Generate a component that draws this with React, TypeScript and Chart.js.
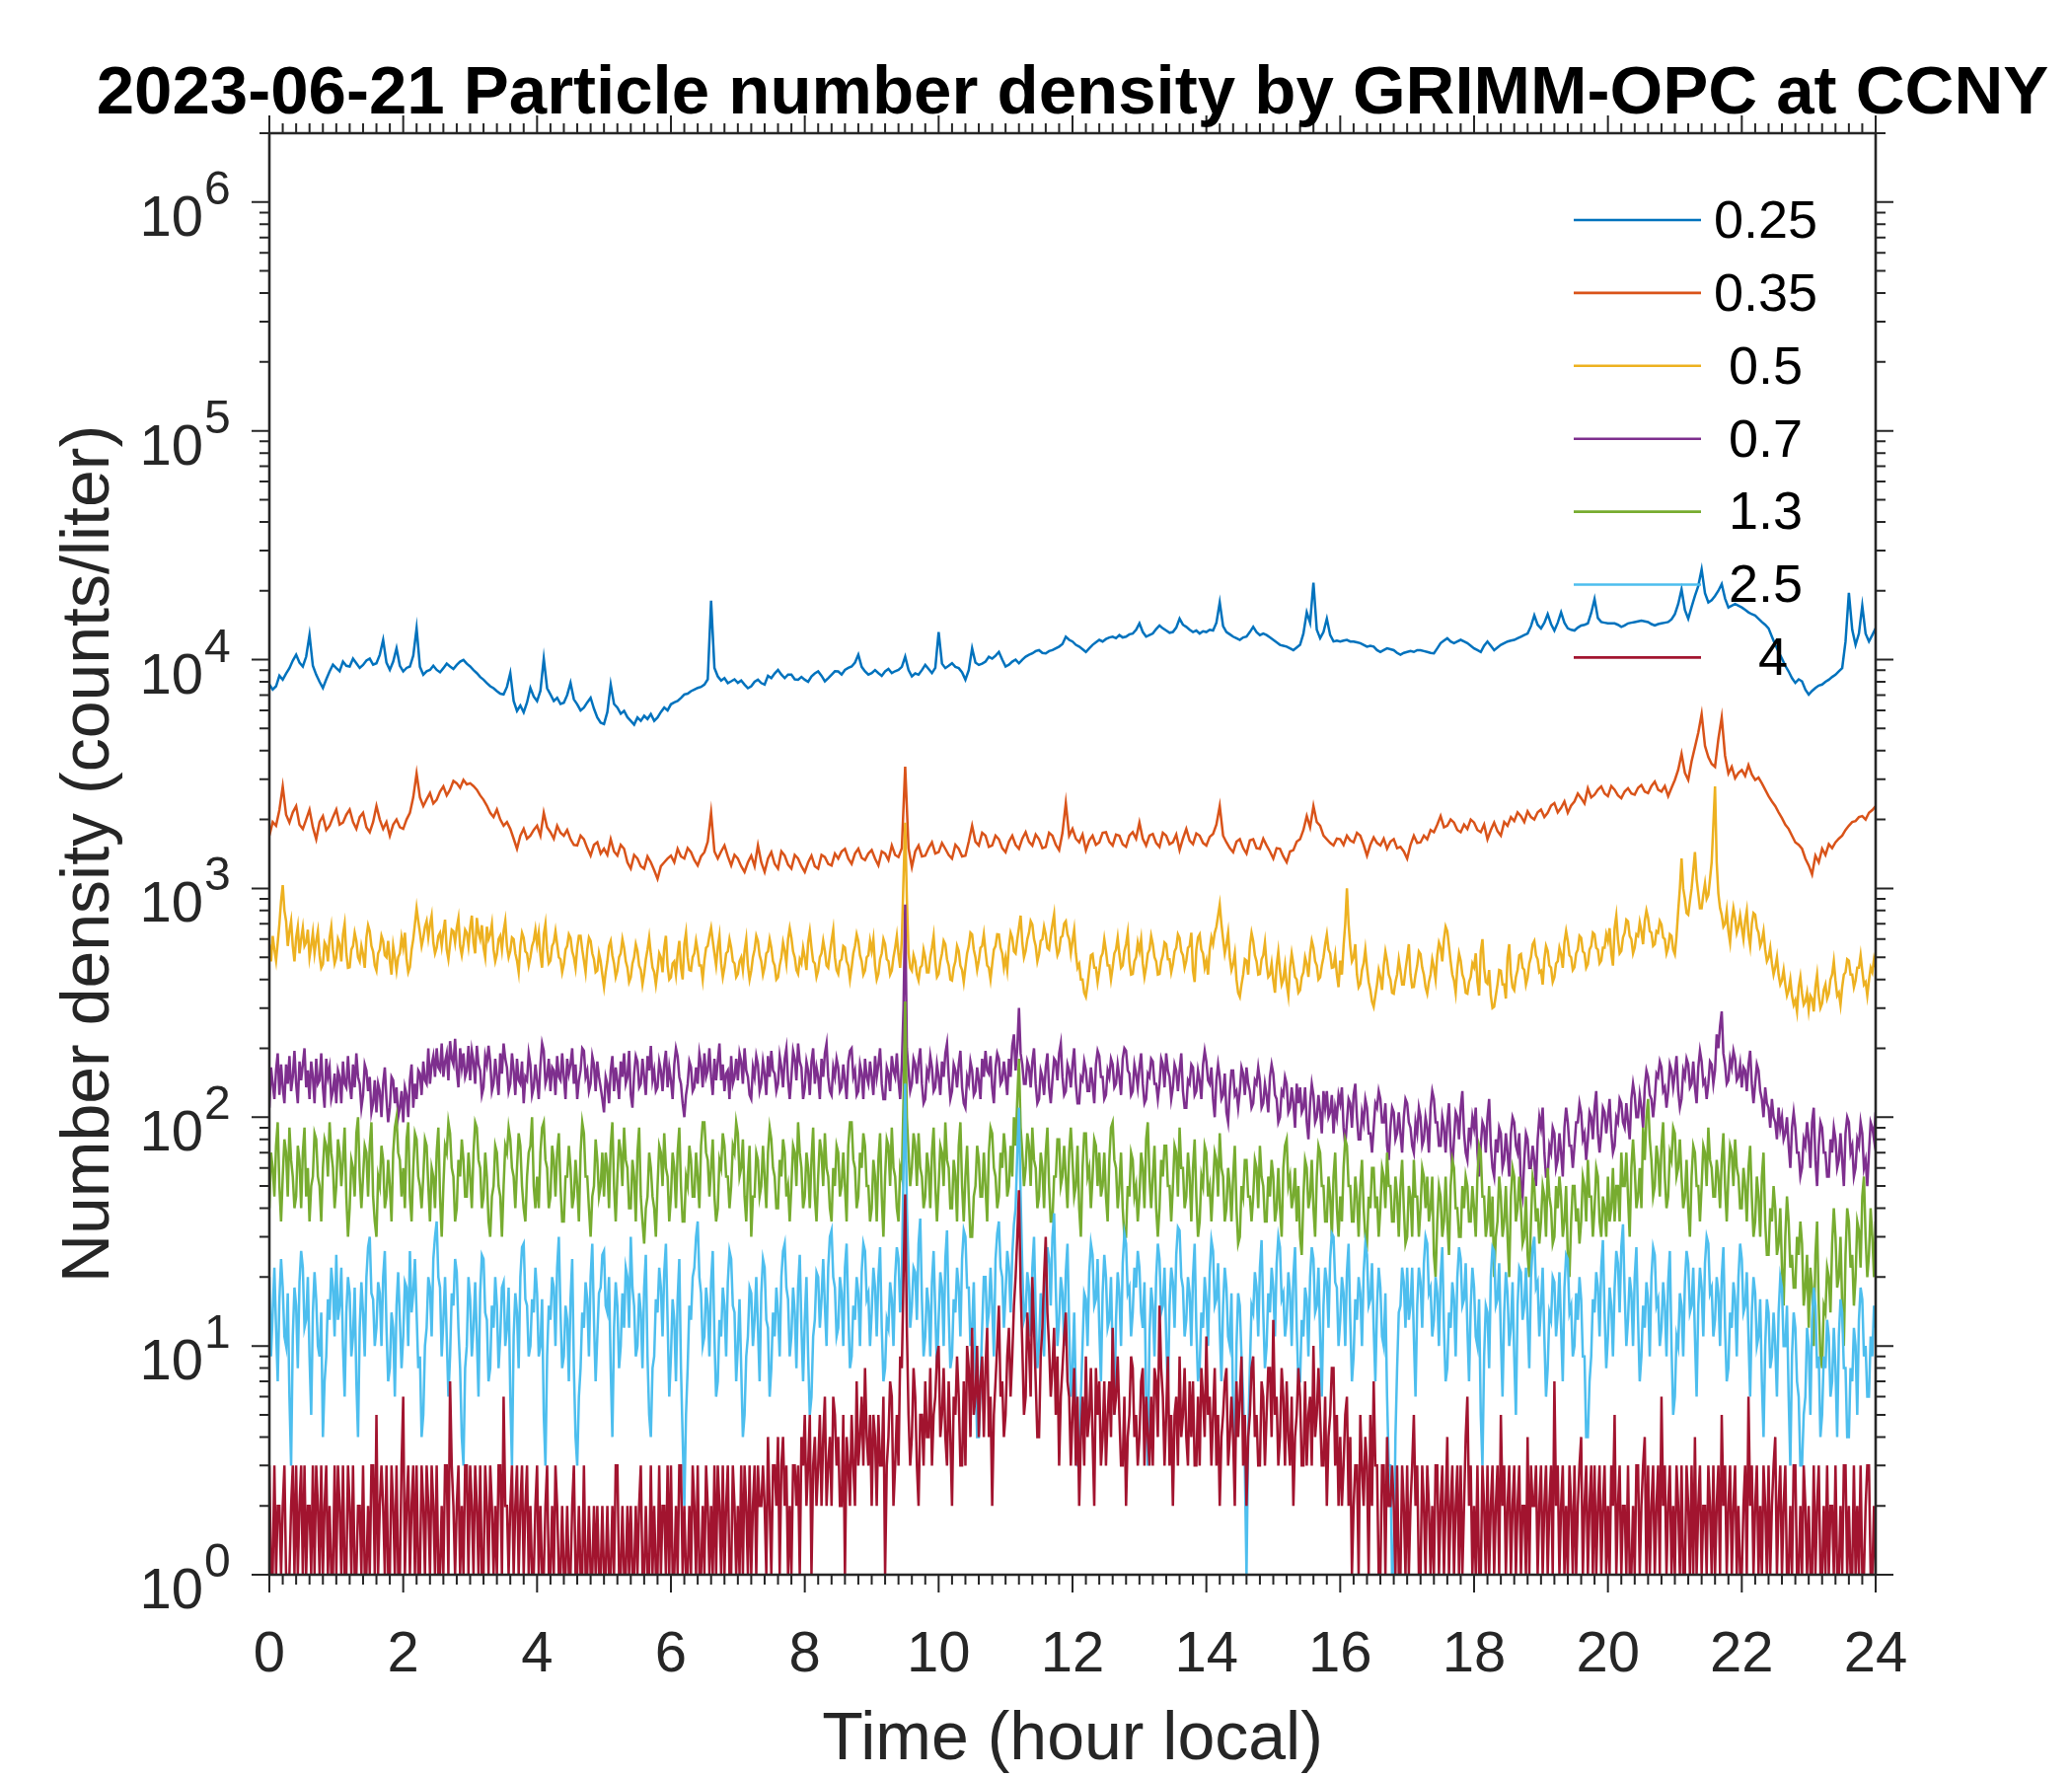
import React, { useEffect, useRef } from "react";
import { Chart, registerables } from "chart.js";

Chart.register(...registerables);

// ---------------- data ----------------
const TITLE = "2023-06-21 Particle number density by GRIMM-OPC at CCNY";
const X_LABEL = "Time (hour local)";
const Y_LABEL = "Number density (counts/liter)";

// every series covers 0 h .. 24 h with evenly spaced samples (one row = one hour)
const T_START_H = 0;
const T_END_H = 24;

const SIZE_LABELS = ["0.25", "0.35", "0.5", "0.7", "1.3", "2.5", "4"];
const LEGEND_TEXT = ["0.25", "0.35", " 0.5", " 0.7", " 1.3", " 2.5", "   4"];
const COLORS = ["#0072BD", "#D95319", "#EDB120", "#7E2F8E", "#77AC30", "#4DBEEE", "#A2142F"];

const X_TICKS = [0, 2, 4, 6, 8, 10, 12, 14, 16, 18, 20, 22, 24];
const X_MINOR_STEP = 0.2;
const Y_DECADES = [0, 1, 2, 3, 4, 5, 6];
const Y_MIN = 1;
const Y_MAX = 2e6;

const N_025 = [
  7780, 7400, 7650, 8500, 8170, 8700, 9180, 9900, 10500, 9700, 9330, 10300, 12800, 9400, 8590, 8000, 7520, 8200, 8880, 9500,
  9180, 8900, 9800, 9400, 9330, 10100, 9640, 9200, 9480, 9900, 10100, 9500, 9640, 10500, 12200, 9700, 9020, 9800, 11200, 9400,
  8880, 9200, 9330, 10400, 13700, 9300, 8590, 8900, 9020, 9400, 9020, 8800, 9180, 9600, 9330, 9100, 9480, 9800, 9970, 9600,
  9330, 9000, 8730, 8400, 8170, 7900, 7650, 7500, 7280, 7100, 7040, 7600, 8730, 6600, 5970, 6300, 5880, 6500, 7520, 6900,
  6590, 7300, 10100, 7500, 7040, 6600, 6810, 6400, 6480, 7000, 7910, 6700, 6380, 6000, 6170, 6500, 6810, 6100, 5590, 5300,
  5230, 5900, 7780, 6400, 6170, 5800, 5970, 5600, 5400, 5200, 5590, 5400, 5680, 5500, 5780, 5400, 5590, 5900, 6170, 6000,
  6380, 6500, 6590, 6800, 7040, 7100, 7280, 7400, 7520, 7600, 7780, 8200, 18100, 9200, 8450, 8100, 8300, 7900, 8040, 8200,
  7910, 8100, 7780, 7500, 7650, 8000, 8170, 7900, 7780, 8500, 8300, 8700, 9020, 8600, 8300, 8600, 8590, 8200, 8170, 8400,
  8170, 8000, 8450, 8700, 8880, 8500, 8040, 8300, 8590, 8900, 8880, 8600, 9020, 9200, 9330, 9700, 10500, 9300, 8880, 8600,
  8730, 9000, 8730, 8500, 8880, 9100, 8730, 8900, 9020, 9300, 10300, 9000, 8450, 8700, 8590, 9000, 9480, 9100, 8730, 9200,
  13200, 9600, 9180, 9400, 9640, 9300, 9180, 8800, 8170, 9000, 11200, 9700, 9480, 9600, 9800, 10300, 10100, 10400, 10800, 10000,
  9330, 9500, 9800, 10000, 9640, 10000, 10300, 10500, 10650, 10900, 11000, 10700, 10650, 10900, 11000, 11200, 11400, 11700, 12600, 12200,
  12000, 11600, 11400, 11100, 10800, 11200, 11600, 11900, 12200, 12000, 12300, 12500, 12600, 12400, 12800, 12500, 12600, 12900, 13000, 13500,
  14400, 13200, 12600, 12800, 13000, 13600, 14100, 13700, 13400, 13100, 13200, 13800, 15100, 14200, 13900, 13500, 13200, 13400, 13000, 13300,
  13200, 13500, 13400, 14500, 17800, 14000, 13200, 12900, 12600, 12400, 12200, 12500, 12600, 13200, 13900, 13200, 12800, 13000, 12800, 12500,
  12200, 11900, 11600, 11500, 11400, 11200, 11000, 11300, 11600, 13000, 16100, 14500, 21700, 13500, 12400, 13200, 15100, 12800, 12000, 12100,
  12000, 12100, 12200, 12000, 12000, 11900, 11800, 11600, 11400, 11500, 11400, 11000, 10800, 11000, 11200, 11100, 11000, 10700, 10500, 10700,
  10800, 10900, 10800, 11000, 11000, 10900, 10800, 10700, 10650, 11200, 11800, 12100, 12400, 12000, 11800, 12000, 12200, 12000, 11800, 11500,
  11200, 11000, 10800, 11500, 12000, 11500, 11000, 11300, 11600, 11800, 12000, 12100, 12200, 12400, 12600, 12800, 13000, 14000, 15600, 14200,
  13700, 14500, 15800, 14300, 13400, 14500, 16100, 14500, 13700, 13500, 13400, 13800, 14100, 14200, 14400, 16000, 18400, 15200, 14600, 14500,
  14400, 14400, 14400, 14200, 13900, 14100, 14400, 14500, 14600, 14700, 14800, 14700, 14600, 14300, 14100, 14300, 14400, 14500, 14600, 15000,
  15800, 17500, 20300, 16500, 15100, 17000, 19000, 21000, 24800, 19500, 17800, 18200, 19000, 20000, 21400, 18500, 16900, 17200, 17500, 17200,
  16900, 16500, 16100, 15800, 15600, 15100, 14600, 14200, 13700, 12600, 11600, 10800, 10100, 9400, 8880, 8300, 7910, 8200, 8040, 7400,
  7040, 7300, 7520, 7700, 7780, 8000, 8170, 8400, 8590, 8900, 9180, 12000, 19600, 13500, 11600, 13000, 17200, 13000, 12000, 12800,
  13700,
];

const N_035 = [
  1700, 1950, 1880, 2200, 2790, 2100, 1940, 2150, 2290, 1900, 1820, 2000, 2210, 1850, 1640, 1950, 2070, 1800, 1880, 2050,
  2210, 1900, 1940, 2100, 2210, 1950, 1820, 2050, 2140, 1850, 1760, 1950, 2290, 2000, 1820, 1950, 1700, 1900, 2000, 1850,
  1820, 2000, 2140, 2500, 3180, 2500, 2290, 2450, 2610, 2350, 2440, 2650, 2790, 2550, 2700, 2950, 2880, 2750, 2980, 2850,
  2880, 2800, 2700, 2550, 2440, 2300, 2140, 2050, 2210, 2000, 1880, 1950, 1820, 1650, 1490, 1700, 1820, 1650, 1700, 1800,
  1880, 1700, 2140, 1850, 1760, 1650, 1880, 1750, 1700, 1800, 1640, 1550, 1540, 1700, 1640, 1500, 1390, 1550, 1590, 1420,
  1490, 1400, 1640, 1450, 1390, 1550, 1490, 1300, 1220, 1400, 1350, 1250, 1220, 1380, 1300, 1200, 1100, 1250, 1300, 1350,
  1390, 1300, 1490, 1380, 1350, 1500, 1440, 1330, 1260, 1380, 1440, 1600, 2140, 1450, 1350, 1450, 1540, 1380, 1260, 1400,
  1350, 1250, 1180, 1300, 1390, 1250, 1540, 1300, 1180, 1350, 1440, 1280, 1220, 1450, 1390, 1270, 1220, 1400, 1350, 1250,
  1180, 1300, 1390, 1250, 1220, 1400, 1370, 1280, 1260, 1420, 1350, 1450, 1490, 1350, 1280, 1420, 1490, 1360, 1330, 1420,
  1470, 1350, 1260, 1450, 1420, 1330, 1540, 1400, 1370, 1500, 3400, 1500, 1240, 1450, 1540, 1380, 1390, 1500, 1590, 1420,
  1440, 1580, 1490, 1400, 1350, 1550, 1490, 1380, 1390, 1600, 1880, 1600, 1540, 1750, 1700, 1520, 1540, 1700, 1640, 1500,
  1440, 1600, 1700, 1550, 1490, 1650, 1760, 1600, 1540, 1720, 1640, 1500, 1520, 1750, 1700, 1550, 1470, 1750, 2360, 1700,
  1820, 1650, 1590, 1720, 1470, 1620, 1700, 1550, 1590, 1750, 1760, 1600, 1540, 1720, 1700, 1560, 1520, 1700, 1760, 1650,
  1940, 1650, 1540, 1700, 1730, 1580, 1520, 1750, 1700, 1560, 1590, 1720, 1470, 1650, 1820, 1620, 1560, 1740, 1700, 1580,
  1540, 1680, 1730, 1900, 2290, 1700, 1590, 1500, 1440, 1600, 1640, 1500, 1420, 1620, 1640, 1500, 1490, 1650, 1540, 1450,
  1350, 1500, 1490, 1380, 1300, 1450, 1470, 1600, 1640, 1800, 2070, 1850, 2290, 1950, 1880, 1700, 1640, 1580, 1540, 1650,
  1640, 1550, 1700, 1620, 1590, 1750, 1700, 1550, 1390, 1550, 1670, 1580, 1540, 1650, 1490, 1600, 1640, 1500, 1520, 1450,
  1350, 1550, 1700, 1580, 1590, 1700, 1640, 1800, 1760, 1900, 2070, 1850, 1880, 2000, 1940, 1800, 1760, 1900, 1820, 2000,
  1940, 1800, 1760, 1900, 1640, 1800, 1940, 1780, 1700, 1950, 1880, 2050, 1970, 2150, 2070, 1950, 2170, 2050, 2000, 2150,
  2210, 2050, 2140, 2300, 2360, 2150, 2250, 2400, 2140, 2300, 2400, 2600, 2480, 2350, 2740, 2500, 2570, 2700, 2790, 2600,
  2530, 2800, 2700, 2550, 2480, 2650, 2740, 2600, 2570, 2750, 2830, 2650, 2610, 2800, 2930, 2700, 2650, 2800, 2530, 2750,
  2980, 3300, 3870, 3200, 2980, 3600, 4150, 4800, 5780, 4200, 3750, 3500, 3400, 4500, 5590, 3800, 3180, 3400, 3030, 3200,
  3290, 3100, 3460, 3150, 2980, 3050, 2880, 2700, 2530, 2400, 2290, 2150, 2030, 1900, 1820, 1700, 1590, 1550, 1490, 1350,
  1260, 1150, 1390, 1300, 1490, 1400, 1560, 1500, 1590, 1650, 1700, 1800, 1880, 1950, 1970, 2050, 2070, 2000, 2140, 2200,
  2290,
];

const N_05 = [
  570, 480, 620, 540, 483, 580, 700, 880, 1033, 800, 720, 560, 650, 720, 560, 480, 608, 680, 520, 600, 673, 560, 580, 660, 499, 560, 640, 520, 589, 650, 510, 450, 467, 580, 560, 480, 608, 680, 540, 470,
  499, 600, 570, 480, 629, 700, 520, 450, 452, 540, 560, 640, 589, 500, 480, 560, 516, 450, 610, 690, 650, 560, 530, 460, 437, 520, 540, 620, 589, 510, 500, 590, 483, 420, 560, 500, 437, 500, 520, 610,
  551, 640, 490, 430, 452, 540, 600, 700, 820, 720, 640, 560, 608, 680, 720, 610, 695, 760, 580, 520, 551, 620, 640, 560, 650, 730, 540, 490, 570, 660, 650, 580, 673, 740, 560, 510, 570, 660, 640, 560,
  673, 760, 580, 520, 743, 640, 600, 690, 551, 500, 680, 600, 629, 700, 540, 480, 516, 600, 620, 540, 650, 720, 560, 500, 533, 610, 600, 520, 483, 430, 560, 640, 608, 530, 520, 460, 499, 560, 590, 660,
  570, 640, 510, 450, 629, 700, 540, 470, 483, 560, 580, 650, 570, 500, 490, 430, 467, 540, 560, 630, 608, 530, 500, 450, 551, 620, 620, 540, 483, 430, 540, 610, 589, 520, 490, 430, 437, 520, 480, 420,
  371, 430, 480, 560, 589, 510, 470, 410, 437, 500, 520, 600, 551, 480, 450, 390, 409, 470, 500, 570, 533, 460, 440, 380, 423, 490, 540, 610, 516, 450, 430, 380, 437, 520, 500, 430, 551, 620, 460, 400,
  409, 470, 480, 420, 516, 590, 450, 400, 570, 640, 500, 440, 437, 500, 520, 590, 533, 460, 460, 400, 483, 550, 560, 620, 673, 590, 520, 460, 551, 620, 470, 410, 452, 520, 530, 600, 551, 480, 470, 410,
  423, 480, 500, 440, 533, 600, 460, 400, 437, 500, 540, 620, 589, 510, 480, 420, 452, 520, 530, 600, 551, 480, 460, 400, 409, 460, 500, 580, 533, 470, 600, 670, 608, 530, 500, 440, 423, 490, 470, 550,
  499, 440, 580, 650, 551, 480, 470, 410, 437, 500, 520, 590, 533, 460, 450, 520, 589, 660, 500, 440, 423, 480, 490, 560, 551, 480, 460, 400, 452, 520, 560, 630, 589, 510, 480, 420, 437, 500, 510, 590,
  533, 600, 460, 400, 423, 490, 520, 600, 570, 490, 480, 420, 437, 500, 550, 620, 516, 450, 600, 1100, 1940, 900, 520, 450, 437, 510, 480, 420, 396, 450, 460, 540, 499, 430, 430, 500, 551, 620, 480, 410,
  423, 480, 520, 590, 570, 490, 460, 400, 396, 450, 480, 560, 533, 460, 440, 390, 452, 520, 560, 640, 629, 540, 500, 440, 483, 550, 560, 630, 533, 460, 450, 400, 467, 540, 560, 630, 629, 550, 520, 450,
  499, 440, 560, 640, 608, 530, 520, 600, 673, 760, 580, 500, 533, 600, 640, 720, 695, 600, 560, 480, 516, 590, 600, 680, 629, 550, 540, 620, 695, 770, 580, 510, 533, 610, 620, 700, 718, 630, 600, 520,
  589, 660, 520, 450, 467, 400, 400, 350, 336, 380, 440, 510, 516, 450, 450, 390, 437, 500, 520, 600, 533, 460, 460, 400, 452, 520, 540, 610, 516, 450, 460, 530, 570, 640, 480, 420, 423, 480, 500, 580,
  533, 600, 470, 410, 452, 520, 540, 620, 570, 500, 480, 420, 423, 480, 510, 580, 570, 490, 490, 430, 467, 530, 550, 630, 608, 530, 510, 450, 483, 550, 560, 640, 437, 390, 540, 610, 629, 540, 520, 450,
  483, 420, 540, 610, 570, 640, 680, 760, 849, 700, 600, 520, 570, 640, 500, 440, 467, 520, 400, 350, 336, 380, 420, 490, 483, 420, 560, 640, 589, 510, 480, 420, 423, 490, 510, 580, 467, 410, 420, 470,
  396, 350, 460, 530, 437, 380, 400, 460, 383, 340, 450, 520, 467, 410, 400, 350, 359, 410, 430, 500, 467, 410, 520, 590, 551, 480, 460, 400, 409, 460, 500, 570, 629, 540, 520, 450, 452, 510, 420, 370,
  483, 420, 560, 700, 1000, 700, 560, 480, 499, 570, 420, 370, 383, 440, 470, 540, 452, 390, 360, 320, 304, 340, 380, 440, 409, 360, 460, 530, 483, 420, 400, 350, 347, 390, 420, 490, 437, 380, 380, 440,
  499, 570, 420, 370, 371, 420, 460, 530, 516, 450, 420, 370, 347, 390, 420, 490, 452, 400, 510, 580, 551, 480, 600, 680, 650, 560, 480, 420, 396, 350, 450, 520, 483, 420, 400, 350, 347, 390, 410, 470,
  452, 520, 390, 340, 533, 600, 450, 390, 383, 440, 340, 300, 304, 340, 380, 440, 437, 380, 380, 330, 499, 570, 420, 370, 359, 410, 440, 510, 516, 450, 440, 380, 409, 470, 500, 570, 589, 510, 490, 430,
  437, 380, 490, 560, 533, 460, 450, 390, 409, 470, 480, 550, 516, 450, 580, 650, 589, 510, 500, 440, 452, 520, 540, 620, 608, 530, 520, 450, 467, 540, 560, 640, 629, 550, 540, 470, 483, 550, 550, 630,
  589, 670, 520, 460, 673, 760, 600, 520, 533, 610, 640, 730, 718, 620, 600, 520, 551, 630, 620, 710, 650, 570, 720, 800, 743, 650, 640, 560, 570, 650, 640, 720, 695, 610, 600, 520, 551, 630, 620, 540,
  516, 620, 800, 1000, 1350, 1000, 900, 780, 767, 880, 1000, 1200, 1440, 1100, 950, 820, 820, 940, 1050, 900, 936, 1100, 1300, 1900, 2790, 1300, 950, 820, 767, 680, 700, 800, 650, 580, 720, 820, 743, 640, 680, 760,
  673, 600, 720, 800, 629, 560, 700, 780, 767, 670, 640, 560, 589, 650, 540, 480, 499, 550, 470, 420, 452, 500, 420, 380, 396, 440, 380, 340, 359, 400, 340, 310, 325, 290, 370, 410, 347, 310, 320, 350,
  294, 340, 330, 290, 371, 420, 340, 300, 314, 360, 380, 330, 347, 400, 420, 480, 396, 340, 350, 310, 371, 420, 430, 490, 483, 420, 420, 370, 396, 450, 450, 510, 437, 380, 390, 340, 396, 450, 430, 490,
  452,
];

const N_07 = [
  110, 165, 140, 120, 160, 190, 125, 170, 135, 115, 170, 140, 185, 130, 150, 195, 140, 115, 175, 145, 170, 200, 135, 160, 120, 175, 150, 115, 180, 140, 145, 190, 135, 110, 180, 150, 165, 120, 130, 155,
  115, 160, 150, 115, 175, 140, 135, 185, 140, 120, 170, 135, 190, 150, 140, 110, 125, 170, 160, 130, 150, 105, 115, 145, 105, 140, 130, 100, 140, 165, 120, 95, 110, 150, 145, 115, 135, 100, 110, 130,
  95, 135, 125, 100, 145, 170, 110, 140, 120, 160, 155, 125, 175, 145, 140, 200, 140, 170, 185, 150, 200, 165, 160, 210, 150, 175, 190, 145, 215, 180, 170, 220, 160, 135, 200, 165, 190, 150, 160, 205,
  145, 195, 175, 140, 205, 170, 160, 125, 135, 185, 170, 205, 175, 130, 140, 180, 150, 125, 190, 155, 210, 180, 165, 130, 140, 190, 160, 125, 180, 145, 140, 175, 115, 150, 145, 190, 170, 125, 135, 170,
  145, 120, 170, 210, 195, 140, 150, 180, 130, 165, 160, 125, 185, 150, 145, 190, 150, 120, 180, 155, 170, 200, 140, 170, 120, 145, 160, 200, 195, 150, 160, 130, 140, 185, 170, 130, 175, 150, 135, 120,
  105, 150, 140, 115, 160, 185, 130, 165, 145, 120, 175, 150, 190, 140, 150, 195, 125, 110, 155, 185, 175, 135, 140, 180, 150, 125, 185, 160, 205, 145, 160, 130, 135, 175, 160, 130, 170, 195, 135, 165,
  145, 120, 170, 200, 185, 150, 140, 115, 100, 125, 140, 175, 165, 130, 135, 165, 140, 190, 170, 135, 190, 150, 160, 200, 150, 125, 180, 145, 175, 210, 145, 170, 130, 155, 160, 120, 185, 140, 150, 180,
  145, 190, 175, 140, 200, 160, 150, 125, 120, 165, 150, 185, 170, 130, 140, 175, 155, 125, 185, 150, 195, 160, 155, 130, 140, 185, 165, 135, 180, 200, 145, 120, 150, 195, 180, 145, 210, 175, 165, 120,
  135, 175, 160, 125, 175, 200, 140, 165, 150, 120, 180, 150, 190, 210, 150, 130, 125, 165, 150, 180, 165, 130, 135, 170, 145, 120, 175, 195, 200, 150, 160, 125, 130, 170, 155, 120, 180, 150, 140, 175,
  150, 125, 185, 150, 170, 200, 140, 120, 120, 165, 155, 130, 185, 160, 150, 190, 145, 120, 170, 300, 850, 200, 160, 130, 140, 180, 170, 140, 175, 200, 140, 115, 120, 160, 150, 185, 165, 130, 135, 170,
  150, 125, 175, 150, 190, 210, 150, 120, 130, 170, 160, 135, 170, 195, 135, 115, 110, 150, 140, 175, 160, 125, 130, 165, 145, 120, 180, 150, 195, 160, 155, 185, 135, 115, 165, 190, 180, 140, 145, 175,
  150, 125, 180, 150, 205, 230, 160, 200, 300, 190, 170, 140, 140, 175, 165, 135, 175, 200, 140, 115, 120, 160, 150, 125, 165, 190, 135, 115, 145, 180, 175, 145, 190, 210, 150, 125, 130, 170, 160, 135,
  170, 200, 140, 115, 115, 150, 145, 175, 160, 130, 130, 165, 140, 115, 170, 195, 185, 150, 150, 120, 125, 160, 150, 180, 170, 135, 140, 170, 150, 125, 180, 200, 195, 160, 155, 125, 130, 170, 155, 135,
  165, 190, 140, 115, 120, 155, 150, 180, 175, 140, 140, 120, 140, 180, 170, 135, 190, 160, 150, 120, 135, 170, 160, 130, 160, 190, 130, 110, 110, 145, 140, 170, 165, 125, 130, 160, 145, 120, 170, 195,
  175, 145, 140, 165, 120, 100, 145, 170, 150, 120, 125, 155, 105, 95, 130, 160, 160, 125, 130, 110, 130, 165, 155, 125, 165, 140, 130, 110, 115, 145, 140, 165, 145, 110, 115, 140, 125, 105, 150, 170,
  155, 125, 120, 95, 100, 130, 125, 150, 140, 105, 110, 135, 115, 90, 140, 115, 135, 105, 110, 135, 95, 80, 115, 140, 125, 95, 100, 125, 105, 85, 130, 110, 130, 100, 105, 125, 85, 110, 100, 125,
  115, 135, 90, 75, 95, 120, 115, 90, 125, 140, 100, 80, 80, 105, 95, 120, 110, 85, 85, 70, 90, 115, 110, 130, 120, 95, 95, 115, 75, 65, 90, 110, 105, 80, 85, 105, 85, 70, 100, 120,
  115, 95, 90, 75, 70, 95, 85, 110, 100, 75, 80, 100, 90, 70, 110, 130, 120, 95, 95, 75, 75, 100, 90, 70, 95, 115, 75, 60, 80, 105, 100, 80, 110, 130, 85, 70, 65, 90, 80, 100,
  90, 110, 70, 55, 75, 95, 90, 70, 100, 120, 75, 60, 55, 80, 70, 90, 85, 60, 65, 85, 70, 55, 85, 100, 95, 75, 70, 85, 50, 45, 65, 85, 80, 60, 60, 75, 65, 50, 80, 100,
  90, 110, 70, 55, 55, 75, 70, 90, 85, 60, 65, 85, 70, 55, 90, 110, 95, 75, 75, 60, 75, 95, 95, 115, 105, 80, 85, 65, 80, 105, 100, 80, 110, 130, 85, 70, 85, 110, 105, 85,
  100, 120, 85, 70, 75, 100, 95, 120, 115, 95, 90, 115, 95, 80, 120, 140, 125, 100, 100, 125, 110, 90, 135, 160, 150, 125, 120, 100, 120, 155, 150, 175, 165, 130, 135, 110, 130, 170, 160, 135,
  155, 185, 130, 110, 120, 160, 150, 180, 170, 135, 140, 175, 135, 115, 165, 195, 175, 140, 145, 120, 140, 175, 170, 140, 160, 230, 200, 250, 290, 190, 170, 140, 145, 180, 165, 195, 180, 145, 150, 170,
  135, 165, 160, 130, 170, 195, 140, 115, 140, 170, 160, 130, 120, 100, 135, 115, 110, 90, 120, 100, 95, 80, 110, 90, 100, 80, 85, 100, 75, 60, 90, 105, 90, 70, 70, 55, 60, 80, 75, 95,
  80, 60, 95, 110, 65, 50, 75, 95, 90, 70, 70, 55, 55, 80, 70, 90, 80, 60, 65, 85, 65, 50, 85, 100, 95, 70, 75, 55, 60, 80, 75, 95, 85, 60, 65, 50, 70, 95, 90, 80,
  105,
];

const N_13 = [
  40, 70, 60, 45, 75, 95, 50, 35, 55, 80, 70, 45, 90, 65, 55, 40, 45, 75, 65, 40, 70, 90, 45, 60, 35, 50, 55, 85, 80, 55, 50, 35, 60, 80, 75, 55, 95, 70, 60, 40,
  50, 80, 70, 50, 65, 90, 45, 30, 40, 65, 60, 45, 85, 100, 55, 40, 55, 75, 70, 45, 75, 95, 45, 35, 30, 55, 50, 75, 65, 40, 45, 65, 50, 35, 70, 90, 100, 70, 65, 45,
  60, 40, 80, 95, 45, 35, 60, 85, 80, 55, 50, 40, 55, 80, 75, 50, 35, 60, 55, 40, 70, 90, 45, 30, 50, 75, 70, 95, 85, 60, 55, 35, 40, 65, 55, 80, 65, 45, 45, 70,
  55, 40, 70, 95, 90, 65, 60, 40, 45, 70, 55, 35, 30, 45, 50, 75, 70, 50, 45, 30, 50, 75, 70, 90, 80, 60, 55, 40, 60, 85, 75, 50, 40, 35, 55, 70, 75, 100, 50, 40,
  55, 40, 70, 90, 95, 65, 60, 40, 45, 75, 65, 45, 70, 85, 50, 35, 35, 55, 55, 75, 60, 40, 45, 65, 50, 35, 70, 95, 85, 55, 55, 40, 30, 45, 50, 80, 65, 45, 50, 70,
  45, 70, 60, 40, 75, 95, 50, 35, 55, 80, 70, 50, 90, 65, 60, 40, 40, 65, 55, 35, 70, 90, 45, 35, 28, 40, 45, 70, 60, 45, 40, 30, 50, 75, 70, 50, 85, 60, 55, 35,
  45, 70, 60, 40, 70, 90, 50, 35, 35, 55, 50, 75, 65, 45, 45, 70, 55, 40, 75, 95, 95, 70, 65, 45, 60, 80, 45, 35, 40, 65, 60, 85, 75, 55, 55, 40, 50, 75, 70, 95,
  85, 55, 60, 80, 45, 35, 55, 75, 30, 45, 45, 70, 65, 45, 50, 75, 55, 40, 70, 90, 80, 60, 55, 40, 40, 65, 55, 80, 70, 45, 50, 35, 50, 75, 70, 50, 95, 70, 60, 40,
  45, 70, 60, 40, 65, 90, 45, 35, 55, 80, 70, 50, 85, 60, 55, 40, 35, 60, 50, 75, 70, 45, 50, 70, 50, 35, 75, 95, 95, 65, 60, 40, 45, 70, 60, 85, 75, 50, 50, 35,
  40, 65, 55, 35, 65, 85, 45, 30, 55, 80, 75, 50, 90, 60, 55, 40, 35, 60, 55, 120, 320, 100, 70, 50, 60, 85, 75, 50, 85, 60, 55, 40, 45, 70, 60, 40, 70, 90, 50, 35,
  50, 75, 70, 50, 95, 65, 60, 40, 40, 65, 55, 35, 75, 95, 50, 35, 55, 75, 45, 30, 30, 45, 50, 75, 65, 45, 45, 70, 50, 35, 70, 90, 85, 60, 55, 40, 45, 70, 60, 85,
  70, 45, 50, 75, 55, 100, 75, 120, 180, 90, 70, 50, 60, 85, 75, 50, 90, 65, 60, 40, 45, 70, 60, 40, 70, 90, 50, 35, 35, 55, 55, 80, 80, 50, 55, 75, 55, 40, 70, 90,
  65, 45, 50, 75, 40, 30, 60, 85, 85, 55, 60, 40, 55, 80, 75, 50, 70, 45, 50, 70, 45, 35, 65, 90, 95, 65, 60, 40, 50, 70, 40, 30, 30, 50, 45, 70, 65, 45, 50, 35,
  45, 70, 60, 40, 80, 95, 55, 40, 55, 75, 40, 30, 40, 65, 55, 75, 75, 50, 50, 35, 50, 75, 70, 45, 90, 60, 60, 40, 45, 70, 55, 35, 60, 80, 45, 30, 35, 55, 50, 75,
  70, 45, 50, 35, 50, 70, 65, 45, 85, 60, 55, 35, 40, 60, 50, 35, 55, 75, 40, 28, 30, 50, 45, 65, 65, 45, 45, 35, 45, 65, 60, 40, 75, 55, 50, 35, 35, 55, 45, 65,
  55, 35, 40, 60, 40, 30, 60, 75, 80, 50, 55, 40, 45, 60, 35, 50, 30, 25, 45, 65, 60, 40, 45, 65, 40, 30, 55, 75, 70, 50, 50, 35, 35, 55, 45, 30, 55, 70, 40, 30,
  45, 35, 60, 80, 75, 50, 50, 35, 35, 55, 45, 30, 50, 65, 40, 30, 28, 45, 40, 60, 60, 40, 45, 30, 40, 60, 55, 40, 70, 50, 50, 35, 35, 55, 45, 30, 50, 65, 40, 28,
  30, 50, 45, 30, 65, 45, 45, 30, 40, 60, 55, 40, 55, 35, 40, 55, 25, 20, 35, 50, 45, 30, 35, 55, 35, 25, 50, 65, 60, 40, 40, 30, 30, 50, 40, 55, 50, 35, 35, 50,
  40, 30, 55, 75, 70, 45, 45, 30, 35, 50, 30, 45, 20, 30, 35, 55, 45, 30, 35, 50, 30, 20, 45, 60, 55, 35, 40, 55, 40, 28, 30, 45, 25, 20, 35, 55, 50, 35, 40, 28,
  35, 50, 45, 30, 60, 45, 40, 28, 30, 50, 40, 55, 45, 30, 35, 50, 25, 20, 35, 50, 50, 35, 40, 28, 35, 55, 50, 35, 65, 45, 45, 30, 40, 60, 55, 35, 30, 45, 40, 30,
  55, 35, 40, 60, 35, 50, 50, 35, 70, 50, 50, 70, 45, 30, 60, 80, 60, 40, 45, 60, 40, 90, 65, 100, 120, 80, 65, 45, 50, 75, 65, 45, 75, 95, 55, 40, 45, 70, 65, 90,
  85, 55, 60, 80, 55, 40, 45, 65, 40, 30, 55, 75, 70, 50, 50, 35, 50, 75, 70, 50, 90, 65, 60, 45, 45, 65, 55, 40, 65, 85, 50, 35, 55, 75, 70, 50, 80, 60, 55, 40,
  40, 60, 50, 35, 60, 75, 45, 30, 35, 55, 45, 30, 55, 70, 35, 25, 25, 40, 35, 50, 40, 25, 28, 40, 22, 15, 30, 45, 35, 22, 25, 18, 18, 30, 25, 35, 28, 15, 18, 25,
  12, 22, 18, 10, 25, 35, 15, 9, 8, 15, 14, 22, 20, 14, 28, 40, 30, 18, 20, 30, 15, 10, 25, 40, 35, 22, 25, 15, 20, 35, 32, 22, 45, 55, 30, 20, 25, 40, 30, 20,
  35,
];

const N_25 = [
  20, 9, 14, 22, 12, 7, 16, 24, 18, 11, 10, 17, 6, 3, 11, 18, 15, 8, 19, 26, 22, 12, 13, 20, 9, 5, 14, 21, 16, 10, 9, 14, 4, 7, 9, 16, 13, 22, 18, 11,
  25, 13, 15, 22, 10, 6, 14, 20, 17, 9, 11, 18, 7, 4, 12, 19, 14, 9, 20, 27, 30, 17, 16, 10, 12, 19, 17, 10, 20, 26, 12, 7, 8, 14, 12, 6, 15, 21, 13, 8,
  11, 19, 18, 10, 26, 14, 17, 24, 14, 8, 9, 4, 5, 10, 12, 20, 18, 11, 24, 30, 35, 20, 18, 9, 13, 20, 11, 6, 9, 17, 15, 24, 21, 12, 8, 4, 3, 8, 10, 20,
  16, 9, 12, 19, 11, 6, 17, 25, 24, 14, 13, 7, 8, 15, 12, 20, 15, 8, 11, 18, 19, 10, 12, 18, 6, 3, 11, 17, 14, 8, 20, 27, 28, 16, 15, 9, 10, 16, 14, 22,
  17, 9, 10, 16, 5, 3, 9, 15, 13, 20, 18, 10, 22, 30, 14, 8, 9, 15, 13, 7, 16, 24, 8, 4, 3, 6, 8, 14, 12, 19, 16, 9, 20, 28, 13, 7, 11, 17, 18, 25,
  26, 15, 14, 20, 8, 4, 12, 19, 15, 8, 10, 17, 12, 22, 20, 12, 30, 18, 15, 9, 10, 17, 14, 8, 18, 25, 9, 5, 4, 8, 9, 16, 14, 22, 18, 11, 21, 28, 13, 6,
  9, 16, 13, 7, 16, 24, 8, 4, 2, 5, 8, 15, 13, 20, 22, 30, 35, 20, 17, 10, 11, 18, 15, 9, 19, 26, 11, 6, 7, 13, 11, 18, 15, 9, 19, 26, 24, 15, 14, 7,
  10, 16, 8, 4, 5, 9, 11, 18, 17, 10, 13, 20, 12, 7, 17, 24, 22, 13, 12, 6, 8, 14, 11, 18, 14, 9, 20, 26, 28, 18, 16, 9, 11, 18, 14, 8, 18, 25, 12, 7,
  13, 20, 9, 5, 6, 11, 13, 21, 20, 12, 16, 24, 15, 10, 22, 30, 32, 20, 18, 11, 12, 20, 17, 10, 22, 28, 14, 8, 9, 15, 13, 20, 17, 10, 21, 28, 26, 16, 17, 10,
  14, 22, 18, 11, 20, 27, 12, 7, 8, 13, 12, 19, 16, 10, 20, 27, 24, 14, 20, 60, 140, 40, 22, 12, 15, 22, 21, 13, 28, 36, 16, 9, 11, 18, 15, 9, 19, 26, 14, 8,
  13, 21, 18, 10, 24, 32, 14, 8, 9, 16, 14, 22, 18, 11, 24, 32, 30, 18, 18, 10, 12, 19, 8, 4, 4, 7, 12, 20, 20, 12, 14, 22, 15, 9, 24, 31, 35, 22, 20, 12,
  17, 26, 22, 14, 25, 34, 40, 70, 110, 45, 22, 13, 14, 21, 18, 11, 22, 30, 14, 8, 10, 17, 15, 9, 19, 27, 24, 15, 30, 38, 18, 10, 13, 20, 17, 10, 21, 28, 12, 6,
  8, 14, 6, 3, 3, 6, 10, 17, 16, 10, 21, 28, 25, 15, 16, 24, 12, 7, 17, 25, 20, 12, 13, 20, 9, 5, 13, 21, 17, 10, 23, 31, 28, 17, 18, 11, 14, 22, 18, 26,
  22, 14, 12, 19, 6, 3, 11, 18, 15, 9, 20, 28, 24, 14, 15, 22, 11, 6, 15, 22, 19, 12, 25, 33, 32, 20, 18, 11, 13, 20, 17, 10, 20, 28, 12, 7, 8, 14, 12, 20,
  16, 10, 21, 29, 26, 15, 16, 23, 12, 7, 15, 22, 18, 11, 10, 17, 5, 3, 10, 17, 15, 9, 6, 3, 1, 4, 8, 15, 14, 21, 18, 11, 22, 29, 14, 8, 10, 17, 14, 22,
  18, 11, 23, 30, 27, 16, 17, 11, 13, 21, 17, 10, 20, 27, 12, 7, 7, 13, 11, 18, 16, 9, 20, 27, 24, 14, 15, 22, 11, 6, 15, 22, 19, 12, 24, 31, 30, 19, 18, 10,
  13, 20, 17, 10, 21, 28, 13, 7, 9, 16, 13, 20, 17, 10, 21, 28, 25, 15, 16, 23, 12, 7, 15, 22, 18, 11, 10, 17, 6, 3, 3, 1, 1, 4, 8, 14, 15, 22, 19, 12,
  22, 13, 15, 22, 11, 6, 15, 22, 19, 12, 23, 30, 28, 17, 18, 11, 13, 20, 17, 10, 20, 27, 12, 7, 8, 14, 12, 19, 16, 9, 20, 27, 24, 15, 16, 23, 12, 7, 15, 22,
  18, 11, 10, 16, 5, 3, 9, 15, 14, 8, 20, 27, 26, 15, 16, 23, 11, 6, 14, 21, 17, 10, 12, 19, 9, 5, 15, 22, 21, 13, 15, 22, 13, 8, 20, 27, 30, 18, 19, 11,
  15, 22, 11, 6, 8, 14, 13, 20, 19, 11, 14, 21, 12, 7, 18, 25, 24, 14, 15, 9, 10, 17, 13, 20, 16, 9, 9, 4, 4, 7, 9, 16, 14, 21, 18, 11, 22, 29, 14, 8,
  11, 18, 15, 9, 18, 26, 23, 14, 27, 34, 17, 10, 13, 20, 17, 10, 20, 27, 13, 7, 9, 15, 12, 19, 16, 9, 20, 27, 25, 15, 16, 10, 12, 19, 15, 9, 19, 26, 10, 5,
  6, 11, 10, 17, 15, 9, 19, 26, 23, 14, 15, 22, 11, 6, 15, 22, 18, 11, 23, 30, 28, 17, 18, 11, 13, 20, 17, 10, 20, 27, 12, 7, 8, 14, 12, 19, 16, 9, 20, 28,
  24, 14, 15, 21, 11, 6, 14, 20, 17, 10, 11, 16, 7, 4, 10, 16, 14, 8, 9, 14, 10, 6, 14, 20, 18, 10, 10, 15, 6, 3, 9, 14, 12, 7, 6, 3, 3, 5, 6, 12,
  10, 5, 13, 18, 15, 8, 9, 4, 5, 9, 8, 13, 11, 6, 7, 12, 8, 4, 11, 16, 14, 8, 8, 4, 4, 8, 7, 12, 10, 5, 13, 18, 16, 9, 10, 6, 6, 11, 9, 15,
  12,
];

const N_4 = [
  3, 1, 1, 3, 1, 2, 2, 1, 2, 3, 1, 1, 1, 2, 3, 1, 3, 1, 2, 3, 1, 3, 1, 2, 2, 1, 3, 1, 3, 2, 1, 3, 1, 2, 3, 1, 2, 1, 1, 3,
  1, 3, 2, 1, 3, 1, 1, 3, 2, 1, 3, 1, 1, 2, 2, 1, 3, 1, 1, 2, 1, 3, 3, 1, 5, 1, 2, 3, 2, 1, 3, 1, 1, 3, 2, 1, 3, 1, 1, 3,
  6, 1, 2, 3, 1, 2, 3, 1, 3, 1, 1, 3, 2, 1, 3, 2, 1, 3, 2, 1, 3, 1, 1, 2, 1, 3, 3, 1, 7, 3, 2, 1, 2, 3, 1, 2, 1, 3, 3, 1,
  3, 2, 1, 3, 2, 1, 3, 1, 1, 3, 2, 1, 3, 2, 1, 2, 1, 3, 3, 1, 6, 2, 2, 1, 2, 3, 1, 2, 3, 1, 2, 3, 1, 2, 3, 1, 2, 1, 1, 2,
  3, 1, 2, 1, 1, 2, 3, 1, 1, 2, 1, 3, 2, 1, 1, 2, 1, 1, 2, 1, 1, 2, 3, 1, 1, 2, 1, 1, 3, 1, 1, 2, 1, 1, 2, 1, 2, 1, 1, 2,
  1, 1, 2, 1, 1, 2, 1, 3, 3, 1, 1, 2, 1, 1, 2, 1, 2, 1, 1, 2, 1, 2, 3, 1, 1, 2, 1, 1, 3, 1, 2, 1, 1, 3, 1, 2, 2, 1, 3, 1,
  3, 1, 1, 2, 1, 3, 3, 1, 2, 1, 1, 2, 1, 3, 2, 1, 3, 1, 1, 2, 1, 3, 2, 1, 2, 1, 3, 1, 3, 2, 1, 3, 1, 2, 3, 1, 1, 3, 2, 1,
  2, 1, 3, 1, 3, 2, 1, 3, 1, 2, 3, 1, 3, 2, 2, 3, 2, 1, 4, 2, 1, 3, 3, 2, 4, 1, 3, 4, 2, 3, 1, 2, 1, 3, 3, 2, 3, 1, 4, 3,
  5, 2, 3, 5, 1, 3, 4, 2, 3, 5, 2, 4, 6, 2, 3, 4, 2, 6, 5, 3, 4, 2, 2, 5, 1, 4, 3, 2, 5, 3, 2, 7, 3, 4, 6, 3, 8, 4, 3, 5,
  2, 5, 4, 2, 5, 3, 3, 6, 1, 3, 4, 7, 6, 2, 3, 5, 3, 9, 8, 20, 46, 12, 5, 3, 4, 8, 6, 3, 2, 5, 5, 3, 7, 4, 4, 8, 3, 5, 6, 9,
  10, 4, 5, 8, 4, 3, 7, 4, 2, 6, 5, 9, 6, 3, 3, 7, 3, 10, 8, 4, 12, 5, 6, 10, 4, 7, 9, 4, 8, 12, 4, 6, 2, 5, 7, 10, 15, 6, 7, 4,
  5, 9, 12, 6, 9, 15, 20, 30, 48, 18, 10, 5, 6, 14, 10, 6, 20, 12, 7, 4, 4, 9, 12, 20, 30, 14, 10, 6, 8, 12, 5, 9, 3, 6, 8, 11, 14, 7, 6, 3,
  5, 8, 3, 6, 2, 4, 6, 3, 9, 4, 5, 8, 4, 2, 8, 5, 7, 3, 4, 7, 3, 5, 7, 4, 12, 5, 6, 9, 5, 3, 3, 6, 2, 4, 5, 9, 8, 4, 5, 3,
  4, 7, 8, 3, 6, 4, 3, 6, 3, 8, 7, 4, 15, 8, 6, 3, 5, 9, 3, 5, 2, 5, 6, 3, 9, 4, 5, 8, 4, 3, 7, 4, 7, 3, 3, 6, 3, 8, 6, 4,
  11, 5, 6, 3, 5, 8, 3, 5, 2, 4, 5, 7, 8, 3, 4, 6, 4, 2, 7, 4, 6, 9, 3, 5, 2, 4, 5, 8, 9, 4, 5, 3, 3, 7, 6, 3, 5, 8, 8, 4,
  13, 5, 6, 3, 4, 8, 6, 3, 7, 4, 3, 6, 2, 4, 5, 8, 6, 3, 3, 7, 3, 5, 6, 3, 10, 4, 5, 8, 5, 3, 3, 6, 2, 4, 5, 8, 8, 3, 5, 2,
  4, 2, 3, 5, 6, 2, 4, 1, 2, 3, 3, 1, 5, 3, 2, 4, 3, 1, 5, 2, 7, 3, 3, 1, 1, 3, 3, 1, 4, 2, 2, 3, 2, 1, 3, 1, 1, 3, 2, 1,
  3, 1, 2, 3, 5, 2, 3, 1, 1, 3, 2, 1, 3, 2, 1, 2, 1, 3, 3, 1, 2, 3, 1, 2, 4, 1, 2, 3, 1, 2, 3, 1, 3, 1, 2, 4, 6, 2, 3, 1,
  2, 1, 3, 1, 1, 3, 2, 1, 3, 1, 2, 3, 1, 2, 3, 1, 5, 2, 3, 1, 2, 3, 1, 2, 3, 1, 2, 3, 1, 2, 2, 1, 4, 1, 3, 2, 2, 3, 1, 2,
  3, 1, 2, 3, 1, 2, 3, 1, 7, 2, 3, 1, 2, 3, 1, 2, 1, 3, 2, 1, 3, 1, 2, 3, 4, 1, 2, 3, 1, 2, 3, 1, 3, 1, 2, 3, 1, 2, 3, 1,
  2, 1, 3, 2, 5, 1, 2, 3, 1, 2, 2, 1, 3, 1, 1, 2, 1, 3, 3, 1, 2, 3, 4, 1, 3, 1, 2, 3, 1, 2, 3, 1, 6, 2, 3, 1, 2, 3, 1, 2,
  1, 3, 2, 1, 3, 1, 1, 3, 2, 1, 3, 1, 4, 1, 2, 3, 1, 2, 2, 1, 3, 2, 1, 3, 1, 2, 3, 1, 5, 2, 3, 1, 2, 3, 1, 2, 3, 1, 2, 1,
  1, 2, 3, 1, 6, 2, 3, 1, 2, 3, 1, 2, 1, 3, 2, 1, 3, 1, 2, 3, 4, 1, 2, 3, 1, 2, 3, 1, 1, 2, 1, 3, 3, 1, 1, 2, 1, 3, 2, 1,
  2, 1, 1, 3, 1, 2, 3, 1, 1, 2, 1, 3, 1, 2, 2, 1, 3, 1, 1, 2, 1, 3, 3, 1, 2, 1, 1, 3, 1, 2, 1, 3, 1, 1, 2, 3, 3, 1, 1, 2,
  1,
];

const SERIES = [N_025, N_035, N_05, N_07, N_13, N_25, N_4];

// ---------------- styling ----------------
const FONT = '"Liberation Sans", Arial, Helvetica, sans-serif';
const AXIS_COLOR = "#262626";
const W = 2100;
const H = 1800;

const matlabAxes = {
  id: "matlabAxes",
  afterDraw(chart: any) {
    const { ctx, chartArea: a, scales } = chart;
    const xs = scales.x;
    const ys = scales.y;
    ctx.save();

    // box
    ctx.strokeStyle = AXIS_COLOR;
    ctx.lineWidth = 2.6;
    ctx.beginPath();
    ctx.rect(a.left, a.top, a.right - a.left, a.bottom - a.top);
    ctx.stroke();

    // x ticks (bottom + top, outward)
    ctx.lineWidth = 2;
    const nMinor = Math.round((T_END_H - T_START_H) / X_MINOR_STEP);
    for (let k = 0; k <= nMinor; k++) {
      const t = T_START_H + k * X_MINOR_STEP;
      const px = xs.getPixelForValue(t);
      const len = k % 10 === 0 ? 18 : 10;
      ctx.beginPath();
      ctx.moveTo(px, a.bottom);
      ctx.lineTo(px, a.bottom + len);
      ctx.moveTo(px, a.top);
      ctx.lineTo(px, a.top - len);
      ctx.stroke();
    }

    // y ticks (left + right, outward)
    for (const d of Y_DECADES) {
      for (let m = 1; m <= 9; m++) {
        const v = m * Math.pow(10, d);
        if (v > Y_MAX) break;
        const py = ys.getPixelForValue(v);
        const len = m === 1 ? 18 : 10;
        ctx.beginPath();
        ctx.moveTo(a.left, py);
        ctx.lineTo(a.left - len, py);
        ctx.moveTo(a.right, py);
        ctx.lineTo(a.right + len, py);
        ctx.stroke();
      }
    }

    // x tick labels
    ctx.fillStyle = AXIS_COLOR;
    ctx.font = `58px ${FONT}`;
    ctx.textAlign = "center";
    ctx.textBaseline = "alphabetic";
    for (const t of X_TICKS) {
      ctx.fillText(String(t), xs.getPixelForValue(t), a.bottom + 98);
    }

    // y tick labels 10^n
    for (const d of Y_DECADES) {
      const py = ys.getPixelForValue(Math.pow(10, d));
      ctx.font = `58px ${FONT}`;
      ctx.textAlign = "right";
      ctx.fillText("10", a.left - 67, py + 34);
      ctx.font = `48px ${FONT}`;
      ctx.textAlign = "left";
      ctx.fillText(String(d), a.left - 66, py + 2);
    }

    // axis titles
    ctx.font = `68px ${FONT}`;
    ctx.textAlign = "center";
    ctx.fillText(X_LABEL, (a.left + a.right) / 2, 1783);
    ctx.save();
    ctx.translate(110, (a.top + a.bottom) / 2);
    ctx.rotate(-Math.PI / 2);
    ctx.fillText(Y_LABEL, 0, 0);
    ctx.restore();

    // title
    ctx.fillStyle = "#000000";
    ctx.font = `bold 69px ${FONT}`;
    ctx.textAlign = "center";
    ctx.fillText(TITLE, (a.left + a.right) / 2, 115);

    // legend (no box)
    ctx.font = `54px ${FONT}`;
    ctx.textAlign = "left";
    ctx.textBaseline = "middle";
    for (let i = 0; i < SIZE_LABELS.length; i++) {
      const ly = 223 + i * 73.9;
      ctx.strokeStyle = COLORS[i];
      ctx.lineWidth = 2.6;
      ctx.beginPath();
      ctx.moveTo(1595, ly);
      ctx.lineTo(1724, ly);
      ctx.stroke();
      ctx.fillStyle = "#000000";
      ctx.fillText(LEGEND_TEXT[i], 1737, ly + 3);
    }

    ctx.restore();
  },
};

export default function App() {
  const ref = useRef<HTMLCanvasElement | null>(null);

  useEffect(() => {
    if (!ref.current) return;
    const chart = new Chart(ref.current, {
      type: "line",
      data: {
        datasets: SERIES.map((vals, i) => {
          const step = (T_END_H - T_START_H) / (vals.length - 1);
          return {
            label: SIZE_LABELS[i],
            data: vals.map((v, k) => ({ x: T_START_H + k * step, y: v })),
            borderColor: COLORS[i],
            backgroundColor: COLORS[i],
            borderWidth: 2.5,
            pointRadius: 0,
            tension: 0,
            fill: false,
            order: SERIES.length - 1 - i,
          };
        }),
      },
      options: {
        animation: false,
        responsive: false,
        maintainAspectRatio: false,
        events: [],
        layout: { padding: { left: 273, right: W - 1901, top: 135, bottom: H - 1596 } },
        plugins: {
          legend: { display: false },
          title: { display: false },
          tooltip: { enabled: false },
        },
        scales: {
          x: { type: "linear", min: T_START_H, max: T_END_H, display: false },
          y: { type: "logarithmic", min: Y_MIN, max: Y_MAX, display: false },
        },
      },
      plugins: [matlabAxes],
    });
    return () => chart.destroy();
  }, []);

  return (
    <div style={{ position: "fixed", left: 0, top: 0, width: W, height: H, background: "#ffffff" }}>
      <canvas ref={ref} width={W} height={H} style={{ display: "block", width: W, height: H }} />
    </div>
  );
}
